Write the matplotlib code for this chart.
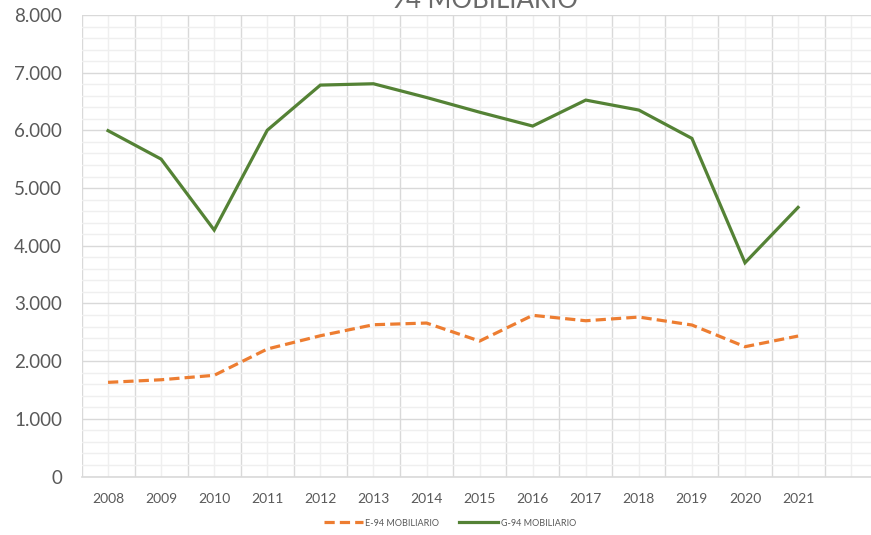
import numpy as np
import matplotlib
matplotlib.use("Agg")
import matplotlib.pyplot as plt
from matplotlib.ticker import FuncFormatter, MultipleLocator

plt.rcParams['font.family'] = ['Lato', 'DejaVu Sans']

years = ["2008", "2009", "2010", "2011", "2012", "2013", "2014",
         "2015", "2016", "2017", "2018", "2019", "2020", "2021"]
e94_mobiliario = [1632, 1677, 1754, 2210, 2440, 2631, 2660,
                  2348, 2794, 2700, 2764, 2626, 2250, 2435]
g94_mobiliario = [5995, 5502, 4272, 6003, 6785, 6808, 6570,
                  6315, 6075, 6525, 6352, 5861, 3705, 4665]

W, H = 871, 535
fig = plt.figure(figsize=(W / 100, H / 100), dpi=100)
left_px, right_px, top_px, bottom_px = 81.5, 877.7, 15.0, 476.5
ax = fig.add_axes([left_px / W, 1 - bottom_px / H,
                   (right_px - left_px) / W, (bottom_px - top_px) / H])

x = np.arange(len(years))
ax.plot(x, e94_mobiliario, color="#ED7D31", lw=2.3,
        linestyle=(0, (3.2, 1.6)), dash_capstyle="butt",
        label="E-94 MOBILIARIO", zorder=3)
ax.plot(x, g94_mobiliario, color="#548235", lw=2.3,
        solid_joinstyle="miter", label="G-94 MOBILIARIO", zorder=3)

# one extra empty category slot on the right
ax.set_xlim(-0.5, len(years) + 0.5)
ax.set_ylim(0, 8000)

ax.set_xticks(np.arange(len(years) + 1))
ax.set_xticklabels(years + [""])
ax.set_xticks(np.arange(-0.5, len(years) + 1.0, 1.0), minor=True)

ax.yaxis.set_major_locator(MultipleLocator(1000))
ax.yaxis.set_minor_locator(MultipleLocator(200))
ax.yaxis.set_major_formatter(
    FuncFormatter(lambda v, p: f"{int(v):,}".replace(",", ".")))

ax.grid(which="major", axis="y", color="#d9d9d9", lw=1.0)
ax.grid(which="minor", axis="y", color="#efefef", lw=1.0)
ax.grid(which="minor", axis="x", color="#d9d9d9", lw=1.0)
ax.grid(which="major", axis="x", color="#efefef", lw=1.0)
ax.set_axisbelow(True)

for s in ("top", "right", "left"):
    ax.spines[s].set_visible(False)
ax.spines["bottom"].set_color("#d9d9d9")
ax.spines["bottom"].set_linewidth(1.2)

ax.tick_params(axis="both", which="both", length=0)
ax.tick_params(axis="y", labelsize=13.5, labelcolor="#595959", pad=14)
ax.tick_params(axis="x", labelsize=10, labelcolor="#595959", pad=12)

# chart title, running off the top edge of the canvas
fig.text(578 / W, 1 + 12 / H, "94 MOBILIARIO", ha="right", va="top",
         fontsize=18.5, color="#6a6a6a")

leg = fig.legend(loc="center", bbox_to_anchor=(450 / W, 1 - 523 / H),
                 ncol=2, frameon=False, fontsize=6.5,
                 handlelength=4.3, handletextpad=0.3, columnspacing=2.2)
for t in leg.get_texts():
    t.set_color("#595959")

fig.savefig("out.png", dpi=100)
